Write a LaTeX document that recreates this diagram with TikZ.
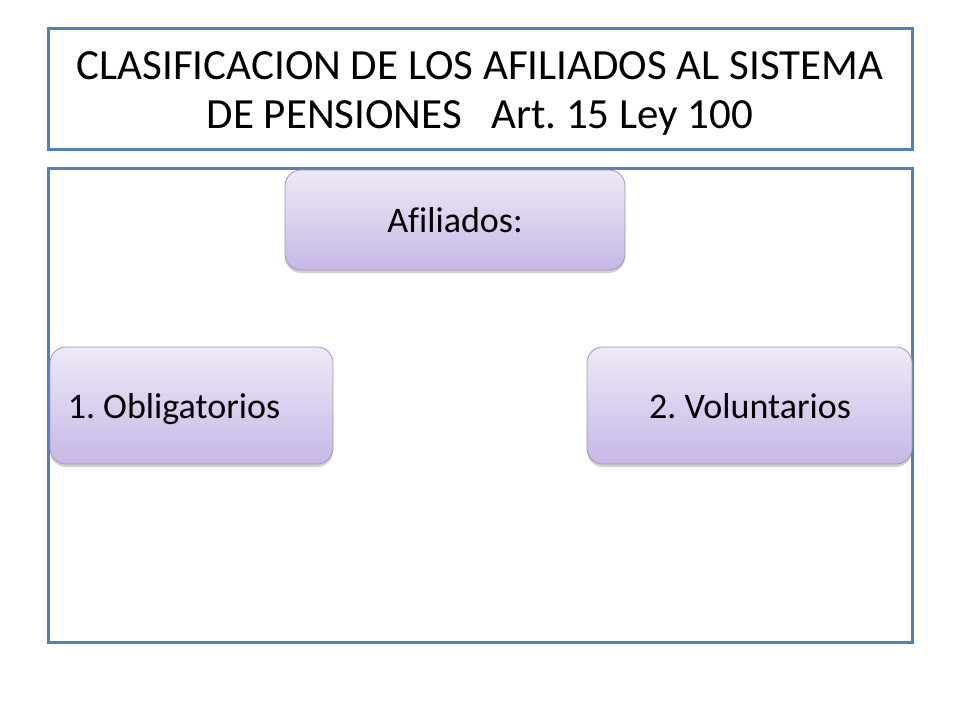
\documentclass[tikz,border=0pt]{standalone}
\usepackage{fontspec}
\setmainfont[Ligatures=NoCommon]{Carlito}
\usetikzlibrary{shadows}
\frenchspacing
\definecolor{bord}{HTML}{4F81BD}
\definecolor{ptop}{HTML}{EEE9F7}
\definecolor{pbot}{HTML}{C7B7E6}
\definecolor{pline}{HTML}{A296C2}
\tikzset{
  frame/.style={draw=bord, line width=3pt},
  pbox/.style={draw=pline, line width=0.8pt, rounded corners=16pt,
    top color=ptop, bottom color=pbot,
    drop shadow={shadow xshift=0pt, shadow yshift=-3pt, opacity=0.3, fill=black!60}},
  btext/.style={font=\fontsize{36}{42}\selectfont, text=black, inner sep=0pt, anchor=base},
  ttext/.style={font=\fontsize{43}{50}\selectfont, text=black, inner sep=0pt, anchor=base},
}
\begin{document}
\begin{tikzpicture}[x=1pt,y=-1pt]
\useasboundingbox (0,0) rectangle (960,720);
\fill[white] (0,0) rectangle (960,720);
\node[frame, minimum width=864pt, minimum height=121pt, inner sep=0pt] (title) at (480,88.5) {};
\node[ttext] (ttxt1) at (480,79) {CLASIFICACION DE LOS AFILIADOS AL SISTEMA};
\node[ttext] (ttxt2) at (480,128) {DE PENSIONES \ \ Art. 15 Ley 100};
\node[frame, minimum width=864pt, minimum height=474pt, inner sep=0pt] (content) at (480,405) {};
\node[pbox, minimum width=340pt, minimum height=100pt] (afil) at (455,220) {};
\node[btext] (afiltxt) at (455,232) {Afiliados:};
\node[pbox, minimum width=283pt, minimum height=117pt] (obl) at (191.5,405.5) {};
\node[btext] (obltxt) at (174,418) {1. Obligatorios};
\node[pbox, minimum width=325pt, minimum height=117pt] (vol) at (749.5,405.5) {};
\node[btext] (voltxt) at (750,418) {2. Voluntarios};
\end{tikzpicture}
\end{document}
